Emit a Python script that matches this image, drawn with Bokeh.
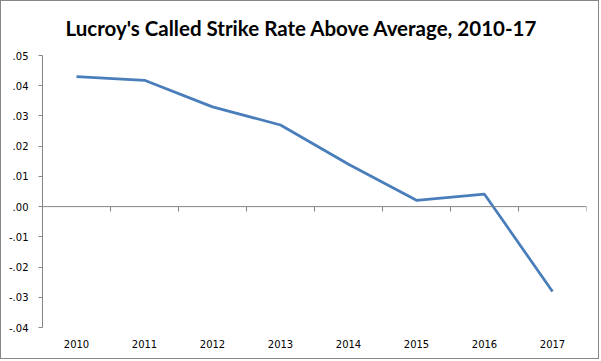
from bokeh.plotting import figure
from bokeh.models import (ColumnDataSource, Span, FixedTicker, CustomJSTickFormatter,
                          Range1d)
from bokeh.embed import file_html
from bokeh.resources import INLINE

title_text = "Lucroy's Called Strike Rate Above Average, 2010-17"
years = ["2010", "2011", "2012", "2013", "2014", "2015", "2016", "2017"]
rate = [0.0430, 0.0418, 0.0330, 0.0270, 0.0140, 0.0021, 0.0041, -0.0281]
y_ticks = [-0.04, -0.03, -0.02, -0.01, 0.0, 0.01, 0.02, 0.03, 0.04, 0.05]

xpos = [i + 0.5 for i in range(len(years))]
src = ColumnDataSource(dict(x=xpos, y=rate))

W, H = 599, 359
p = figure(width=W, height=H, output_backend="svg", toolbar_location=None,
           x_range=Range1d(0, len(years)), y_range=Range1d(y_ticks[0], y_ticks[-1]),
           min_border_left=41, min_border_right=14, min_border_top=53, min_border_bottom=33)
p.styles = {"border": "1px solid #878787"}

p.title.text = title_text
p.title.text_font = "Lato"
p.title.text_font_size = "20.5px"
p.title.text_font_style = "bold"
p.title.text_color = "#000000"
p.title.align = "left"
p.title.offset = 23
p.title.vertical_align = "top"
p.title.standoff = 28

p.grid.visible = False
p.outline_line_color = None
p.background_fill_color = "white"
p.border_fill_color = "white"

# y axis
p.yaxis.ticker = FixedTicker(ticks=y_ticks)
p.yaxis.formatter = CustomJSTickFormatter(code="return tick.toFixed(2).replace('0.', '.');")
p.yaxis.axis_line_color = "#868686"
p.yaxis.major_tick_line_color = "#868686"
p.yaxis.major_tick_in = 0
p.yaxis.major_tick_out = 4
p.yaxis.minor_tick_line_color = None
p.yaxis.major_label_standoff = 10
p.yaxis.major_label_text_font = "DejaVu Sans"
p.yaxis.major_label_text_font_size = "10px"
p.yaxis.major_label_text_color = "#000000"

# x axis (labels only, at the bottom)
p.xaxis.ticker = FixedTicker(ticks=xpos)
p.xaxis.major_label_overrides = {x: y for x, y in zip(xpos, years)}
p.xaxis.axis_line_color = None
p.xaxis.major_tick_line_color = None
p.xaxis.minor_tick_line_color = None
p.xaxis.major_tick_in = 0
p.xaxis.major_tick_out = 0
p.xaxis.major_label_standoff = 12
p.xaxis.major_label_text_font = "DejaVu Sans"
p.xaxis.major_label_text_font_size = "10px"
p.xaxis.major_label_text_color = "#000000"

# zero line with category tick marks
p.add_layout(Span(location=0, dimension="width", line_color="#868686", line_width=1))
bounds = list(range(1, len(years) + 1))
tick_len = 0.0016
p.segment(x0=bounds, y0=[0] * len(bounds), x1=bounds, y1=[-tick_len] * len(bounds),
          line_color="#868686", line_width=1)

p.line("x", "y", source=src, line_color="#4A7EBB", line_width=2.75)

open("out.html", "w").write(file_html(p, INLINE))
